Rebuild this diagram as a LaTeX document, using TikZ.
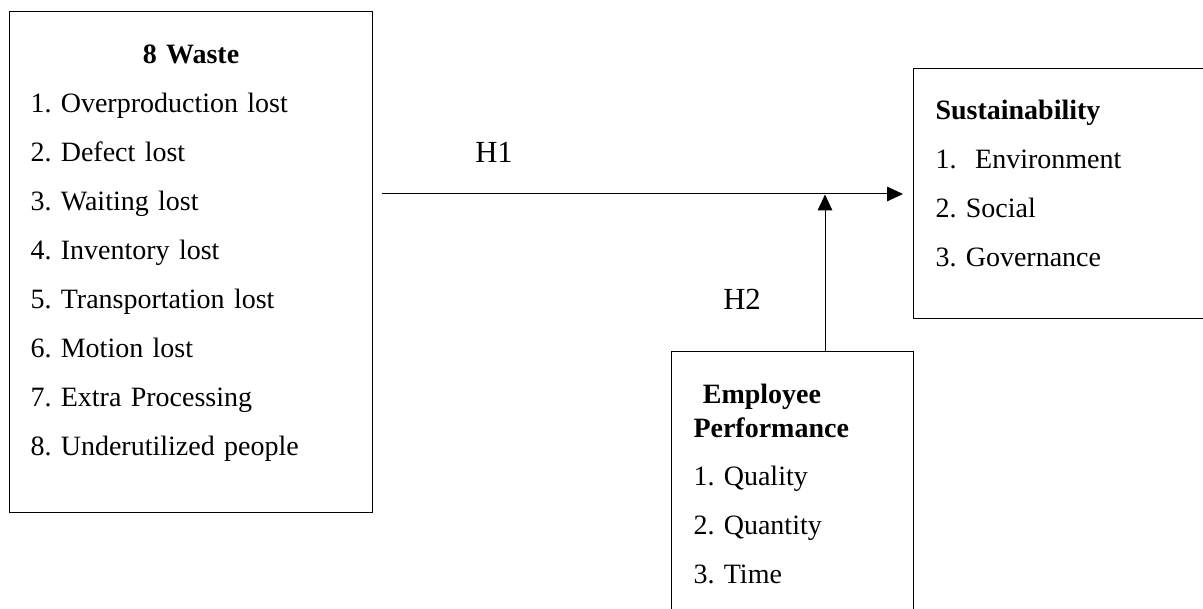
\documentclass[tikz,border=0pt]{standalone}
\usepackage{fontspec}
\setmainfont{Liberation Serif}
\usepackage{tikz}
\usetikzlibrary{arrows.meta, positioning, calc}
\frenchspacing

\begin{document}
\begin{tikzpicture}[
    x=0.75pt, y=-0.75pt,
    box/.style={rectangle, draw=black, line width=0.75pt, inner xsep=16.5pt,
                inner ysep=0pt, align=left, anchor=base west,
                font=\fontsize{21}{24.75}\selectfont},
    arrow/.style={-{Triangle[length=12pt, width=11pt]}, line width=0.75pt},
    hyp/.style={anchor=base west, inner sep=0pt, font=\fontsize{23}{27}\selectfont}
]
\useasboundingbox (0,0) rectangle (1203,609);

\node[box, text width=240.75pt, inner xsep=15.75pt] (waste) at (9,64) {%
  \rule{0pt}{39pt}\makebox[\linewidth]{\textbf{8 Waste}}\\[12pt]
  1. Overproduction lost\\[12pt]
  2. Defect lost\\[12pt]
  3. Waiting lost\\[12pt]
  4. Inventory lost\\[12pt]
  5. Transportation lost\\[12pt]
  6. Motion lost\\[12pt]
  7. Extra Processing\\[12pt]
  8. Underutilized people\rule[-42pt]{0pt}{42pt}};
\node[box, text width=193.5pt] (sust) at (913,120) {%
  \rule{0pt}{38.25pt}\textbf{Sustainability}\\[12pt]
  1.\ \ Environment\\[12pt]
  2. Social\\[12pt]
  3. Governance\rule[-39pt]{0pt}{39pt}};
\node[box, text width=148.5pt] (emp) at (671,404) {%
  \rule{0pt}{39pt}\textbf{~Employee}\\
  \textbf{Performance}\\[12pt]
  1. Quality\\[12pt]
  2. Quantity\\[12pt]
  3. Time\rule[-42.75pt]{0pt}{42.75pt}};

\coordinate (meet) at (825,194.5);

\node[hyp] (h1) at (475,163) {H1};
\node[hyp] (h2) at (723,310) {H2};

\draw[arrow, shorten <=6.75pt, shorten >=7.5pt] (waste.east |- sust.west) -- (sust.west);
\draw[arrow] (emp.north -| meet) -- (meet);

\end{tikzpicture}
\end{document}
